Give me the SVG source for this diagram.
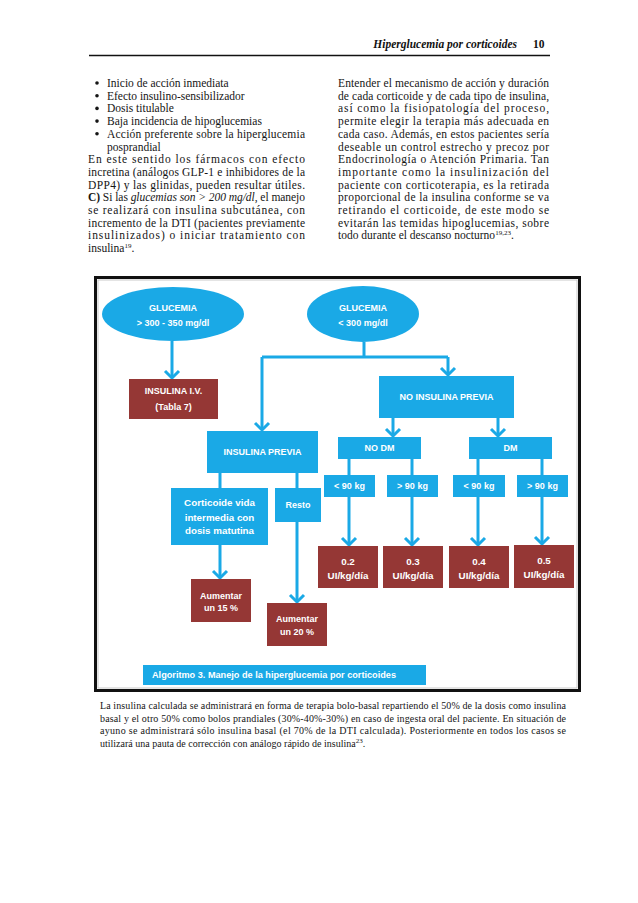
<svg xmlns="http://www.w3.org/2000/svg" width="638" height="903" viewBox="0 0 638 903">
<style>
.body{font-family:"Liberation Serif",serif;font-size:11.5px;fill:#151515}
.cap{font-family:"Liberation Serif",serif;font-size:10px;fill:#151515}
.hdr{font-family:"Liberation Serif",serif;font-size:11.5px;font-weight:bold;fill:#111}
.b{fill:#1aa9e6}
.r{fill:#953735}
.t{font-family:"Liberation Sans",Arial,sans-serif;font-weight:bold;font-size:9px;fill:#fff;text-anchor:middle}
.tl{font-family:"Liberation Sans",Arial,sans-serif;font-weight:bold;font-size:9.8px;fill:#fff;text-anchor:middle}
.ts{font-family:"Liberation Sans",Arial,sans-serif;font-weight:bold;font-size:9px;fill:#fff;text-anchor:start}
.c{stroke:#1aa9e6;stroke-width:3;fill:none}
.sup{font-size:7px}
</style>
<defs>
<marker id="ah" markerUnits="userSpaceOnUse" viewBox="-10 -10 20 20" markerWidth="20" markerHeight="20" refX="0" refY="0" orient="auto">
<polyline points="-7,-7 0,0 -7,7" fill="none" stroke="#1aa9e6" stroke-width="3"/>
</marker>
</defs>
<rect width="638" height="903" fill="#fff"/>

<g id="header">
<text class="hdr" x="517" y="48" text-anchor="end" font-style="italic">Hiperglucemia por corticoides</text>
<text class="hdr" x="533" y="48">10</text>
<line x1="89" y1="55.5" x2="550" y2="55.5" stroke="#111" stroke-width="1.5"/>
</g>

<g id="left-column" class="body">
<circle cx="97" cy="83" r="1.8" fill="#151515"/>
<circle cx="97" cy="95.7" r="1.8" fill="#151515"/>
<circle cx="97" cy="108.4" r="1.8" fill="#151515"/>
<circle cx="97" cy="121.1" r="1.8" fill="#151515"/>
<circle cx="97" cy="133.8" r="1.8" fill="#151515"/>
<text x="107" y="87">Inicio de acción inmediata</text>
<text x="107" y="99.7">Efecto insulino-sensibilizador</text>
<text x="107" y="112.4">Dosis titulable</text>
<text x="107" y="125.1">Baja incidencia de hipoglucemias</text>
<text x="107" y="137.8" textLength="198" lengthAdjust="spacing">Acción preferente sobre la hiperglucemia</text>
<text x="107" y="150.5">posprandial</text>
<text x="88" y="163.2" textLength="217" lengthAdjust="spacing">En este sentido los fármacos con efecto</text>
<text x="88" y="175.9" textLength="217" lengthAdjust="spacing">incretina (análogos GLP-1 e inhibidores de la</text>
<text x="88" y="188.6" textLength="217" lengthAdjust="spacing">DPP4) y las glinidas, pueden resultar útiles.</text>
<text x="88" y="201.3" textLength="217" lengthAdjust="spacing"><tspan font-weight="bold">C)</tspan> Si las <tspan font-style="italic">glucemias son &gt; 200 mg/dl</tspan>, el manejo</text>
<text x="88" y="214" textLength="217" lengthAdjust="spacing">se realizará con insulina subcutánea, con</text>
<text x="88" y="226.7" textLength="217" lengthAdjust="spacing">incremento de la DTI (pacientes previamente</text>
<text x="88" y="239.4" textLength="217" lengthAdjust="spacing">insulinizados) o iniciar tratamiento con</text>
<text x="88" y="252.1">insulina<tspan class="sup" dy="-4">19</tspan><tspan dy="4">.</tspan></text>
</g>

<g id="right-column" class="body">
<text x="338" y="87" textLength="211" lengthAdjust="spacing">Entender el mecanismo de acción y duración</text>
<text x="338" y="99.7" textLength="211" lengthAdjust="spacing">de cada corticoide y de cada tipo de insulina,</text>
<text x="338" y="112.4" textLength="211" lengthAdjust="spacing">así como la fisiopatología del proceso,</text>
<text x="338" y="125.1" textLength="211" lengthAdjust="spacing">permite elegir la terapia más adecuada en</text>
<text x="338" y="137.8" textLength="211" lengthAdjust="spacing">cada caso. Además, en estos pacientes sería</text>
<text x="338" y="150.5" textLength="211" lengthAdjust="spacing">deseable un control estrecho y precoz por</text>
<text x="338" y="163.2" textLength="211" lengthAdjust="spacing">Endocrinología o Atención Primaria. Tan</text>
<text x="338" y="175.9" textLength="211" lengthAdjust="spacing">importante como la insulinización del</text>
<text x="338" y="188.6" textLength="211" lengthAdjust="spacing">paciente con corticoterapia, es la retirada</text>
<text x="338" y="201.3" textLength="211" lengthAdjust="spacing">proporcional de la insulina conforme se va</text>
<text x="338" y="214" textLength="211" lengthAdjust="spacing">retirando el corticoide, de este modo se</text>
<text x="338" y="226.7" textLength="211" lengthAdjust="spacing">evitarán las temidas hipoglucemias, sobre</text>
<text x="338" y="239.4">todo durante el descanso nocturno<tspan class="sup" dy="-4">19,23</tspan><tspan dy="4">.</tspan></text>
</g>

<g id="frame">
<rect x="95.5" y="277.5" width="484" height="413" fill="#fff" stroke="#111" stroke-width="3"/>
<rect x="98" y="280" width="479" height="408" fill="none" stroke="#bbb" stroke-width="0.8"/>
</g>

<g id="connectors">
<line class="c" x1="172" y1="341" x2="172" y2="378" marker-end="url(#ah)"/>
<polyline class="c" points="364,342 364,357"/>
<polyline class="c" points="262,357 448,357"/>
<line class="c" x1="262" y1="357" x2="262" y2="430" marker-end="url(#ah)"/>
<line class="c" x1="448" y1="357" x2="448" y2="375" marker-end="url(#ah)"/>
<line class="c" x1="393" y1="418" x2="393" y2="436" marker-end="url(#ah)"/>
<line class="c" x1="498" y1="418" x2="498" y2="436" marker-end="url(#ah)"/>
<line class="c" x1="349" y1="459" x2="349" y2="475"/>
<line class="c" x1="412" y1="459" x2="412" y2="475"/>
<line class="c" x1="478" y1="459" x2="478" y2="475"/>
<line class="c" x1="542" y1="459" x2="542" y2="475"/>
<line class="c" x1="349" y1="497" x2="349" y2="545" marker-end="url(#ah)"/>
<line class="c" x1="412" y1="497" x2="412" y2="545" marker-end="url(#ah)"/>
<line class="c" x1="478" y1="497" x2="478" y2="545" marker-end="url(#ah)"/>
<line class="c" x1="542" y1="497" x2="542" y2="544" marker-end="url(#ah)"/>
<line class="c" x1="220" y1="473" x2="220" y2="488"/>
<line class="c" x1="297" y1="473" x2="297" y2="488"/>
<line class="c" x1="220" y1="545" x2="220" y2="578" marker-end="url(#ah)"/>
<line class="c" x1="297" y1="522" x2="297" y2="602" marker-end="url(#ah)"/>
</g>

<g id="glucemia-alta">
<ellipse class="b" cx="173" cy="314" rx="71" ry="27"/>
<text class="t" x="173" y="311">GLUCEMIA</text>
<text class="t" x="173" y="326">&gt; 300 - 350 mg/dl</text>
</g>
<g id="glucemia-baja">
<ellipse class="b" cx="363" cy="314" rx="56" ry="28"/>
<text class="t" x="363" y="311">GLUCEMIA</text>
<text class="t" x="363" y="326">&lt; 300 mg/dl</text>
</g>
<g id="insulina-iv">
<rect class="r" x="129" y="379" width="89" height="40"/>
<text class="t" x="173.5" y="394">INSULINA I.V.</text>
<text class="t" x="173.5" y="410">(Tabla 7)</text>
</g>
<g id="no-insulina-previa">
<rect class="b" x="379" y="376" width="135" height="42"/>
<text class="t" x="446.5" y="400">NO INSULINA PREVIA</text>
</g>
<g id="insulina-previa">
<rect class="b" x="207" y="431" width="111" height="42"/>
<text class="t" x="262.5" y="455">INSULINA PREVIA</text>
</g>
<g id="no-dm">
<rect class="b" x="338" y="437" width="83" height="22"/>
<text class="t" x="379.5" y="451">NO DM</text>
</g>
<g id="dm">
<rect class="b" x="469" y="437" width="83" height="22"/>
<text class="t" x="510.5" y="451">DM</text>
</g>
<g id="nodm-menor90">
<rect class="b" x="324" y="475" width="51" height="22"/>
<text class="t" x="349.5" y="489">&lt; 90 kg</text>
</g>
<g id="nodm-mayor90">
<rect class="b" x="387" y="475" width="51" height="22"/>
<text class="t" x="412.5" y="489">&gt; 90 kg</text>
</g>
<g id="dm-menor90">
<rect class="b" x="453" y="475" width="52" height="22"/>
<text class="t" x="479" y="489">&lt; 90 kg</text>
</g>
<g id="dm-mayor90">
<rect class="b" x="517" y="475" width="51" height="22"/>
<text class="t" x="542.5" y="489">&gt; 90 kg</text>
</g>
<g id="dosis-02">
<rect class="r" x="318" y="546" width="60" height="42"/>
<text class="tl" x="348" y="565">0.2</text>
<text class="tl" x="348" y="578.5">UI/kg/día</text>
</g>
<g id="dosis-03">
<rect class="r" x="383" y="546" width="60" height="42"/>
<text class="tl" x="413" y="565">0.3</text>
<text class="tl" x="413" y="578.5">UI/kg/día</text>
</g>
<g id="dosis-04">
<rect class="r" x="449" y="546" width="60" height="42"/>
<text class="tl" x="479" y="565">0.4</text>
<text class="tl" x="479" y="578.5">UI/kg/día</text>
</g>
<g id="dosis-05">
<rect class="r" x="514" y="545" width="60" height="43"/>
<text class="tl" x="544" y="564">0.5</text>
<text class="tl" x="544" y="577.5">UI/kg/día</text>
</g>
<g id="corticoide">
<rect class="b" x="171" y="488" width="97" height="57"/>
<text class="tl" x="219.5" y="506">Corticoide vida</text>
<text class="tl" x="219.5" y="520.5">intermedia con</text>
<text class="tl" x="219.5" y="534">dosis matutina</text>
</g>
<g id="resto">
<rect class="b" x="275" y="488" width="46" height="34"/>
<text class="t" x="298" y="508">Resto</text>
</g>
<g id="aumentar-15">
<rect class="r" x="191" y="579" width="60" height="43"/>
<text class="t" x="221" y="599">Aumentar</text>
<text class="t" x="221" y="611">un 15 %</text>
</g>
<g id="aumentar-20">
<rect class="r" x="267" y="603" width="60" height="43"/>
<text class="t" x="297" y="622">Aumentar</text>
<text class="t" x="297" y="635">un 20 %</text>
</g>
<g id="titulo-algoritmo">
<rect class="b" x="143" y="665" width="283" height="20"/>
<text class="ts" x="152" y="678" textLength="244" lengthAdjust="spacingAndGlyphs">Algoritmo 3. Manejo de la hiperglucemia por corticoides</text>
</g>

<g id="caption" class="cap">
<text x="100" y="709" textLength="466" lengthAdjust="spacing">La insulina calculada se administrará en forma de terapia bolo-basal repartiendo el 50% de la dosis como insulina</text>
<text x="100" y="721.5" textLength="466" lengthAdjust="spacing">basal y el otro 50% como bolos prandiales (30%-40%-30%) en caso de ingesta oral del paciente. En situación de</text>
<text x="100" y="734" textLength="466" lengthAdjust="spacing">ayuno se administrará sólo insulina basal (el 70% de la DTI calculada). Posteriormente en todos los casos se</text>
<text x="100" y="746.5">utilizará una pauta de corrección con análogo rápido de insulina<tspan class="sup" dy="-4">23</tspan><tspan dy="4">.</tspan></text>
</g>
</svg>
